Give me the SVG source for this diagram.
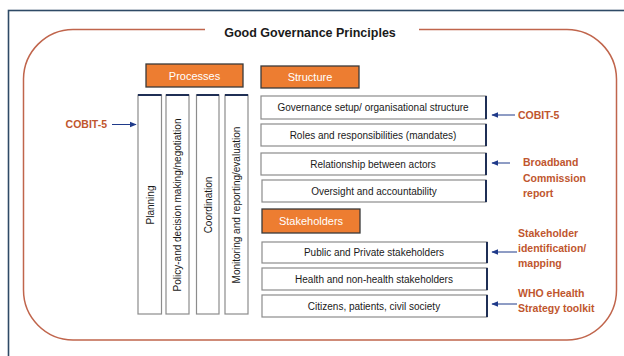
<svg xmlns="http://www.w3.org/2000/svg" width="624" height="356" viewBox="0 0 624 356">
<style>
.t{font-family:"Liberation Sans",Arial,sans-serif;font-size:10px;fill:#1a1a1a;text-anchor:middle}
.hd{font-family:"Liberation Sans",Arial,sans-serif;font-size:11px;fill:#ffffff;text-anchor:middle}
.ref{font-family:"Liberation Sans",Arial,sans-serif;font-size:10.5px;font-weight:bold;fill:#C0562E}
.box{fill:#ffffff;stroke:#8c8c8c;stroke-width:1.2}
.edge{stroke:#1F2F55;stroke-width:2}
.org{fill:#ED7D31;stroke:#3a3a3a;stroke-width:1.3}
.arr{stroke:#1F3A8A;stroke-width:1;fill:none;marker-end:url(#ah)}
</style>
<defs>
<marker id="ah" viewBox="0 0 10 10" refX="9" refY="5" markerWidth="7" markerHeight="7" markerUnits="userSpaceOnUse" orient="auto">
<path d="M0,1 L10,5 L0,9 z" fill="#1F3A8A"/>
</marker>
</defs>
<rect x="0" y="0" width="624" height="356" fill="#ffffff"/>
<rect x="8.5" y="10.5" width="640" height="360" fill="none" stroke="#2E4A66" stroke-width="1.6"/>
<path d="M205,29.5 L73,29.5 A50,50 0 0 0 23.5,79 L23.5,290 A50,50 0 0 0 73,340 L567,340 A50,50 0 0 0 616.5,290 L616.5,79 A50,50 0 0 0 567,29.5 L419,29.5" fill="none" stroke="#C0654C" stroke-width="1.5"/>
<text x="310" y="37" font-family="Liberation Sans,Arial,sans-serif" font-size="12.5" font-weight="bold" fill="#1a1a1a" text-anchor="middle">Good Governance Principles</text>

<g id="processes">
<rect class="org" x="146" y="64" width="97" height="23"/>
<text class="hd" x="194.5" y="79.5">Processes</text>
</g>
<g id="structure">
<rect class="org" x="261" y="66" width="98" height="22"/>
<text class="hd" x="310" y="81">Structure</text>
</g>
<g id="stakeholders">
<rect class="org" x="262" y="209" width="98" height="24"/>
<text class="hd" x="311" y="225">Stakeholders</text>
</g>

<g id="planning">
<rect class="box" x="138" y="95" width="23.5" height="219"/>
<line class="edge" x1="138" y1="95" x2="161.5" y2="95"/>
<text class="t" transform="translate(153.5,205) rotate(-90)">Planning</text>
</g>
<g id="policy">
<rect class="box" x="166" y="95" width="23" height="219"/>
<line class="edge" x1="166" y1="95" x2="189" y2="95"/>
<text class="t" transform="translate(181,205) rotate(-90)">Policy-and decision making/negotiation</text>
</g>
<g id="coordination">
<rect class="box" x="196.5" y="95" width="22.5" height="219"/>
<line class="edge" x1="196.5" y1="95" x2="219" y2="95"/>
<text class="t" transform="translate(211.5,205) rotate(-90)">Coordination</text>
</g>
<g id="monitoring">
<rect class="box" x="225" y="95" width="23" height="219"/>
<line class="edge" x1="225" y1="95" x2="248" y2="95"/>
<text class="t" transform="translate(240,205) rotate(-90)">Monitoring and reporting/evaluation</text>
</g>

<g id="governance-setup">
<rect class="box" x="261" y="96" width="225" height="23"/>
<line class="edge" x1="486" y1="96" x2="486" y2="119"/>
<text class="t" x="373" y="111">Governance setup/ organisational structure</text>
</g>
<g id="roles">
<rect class="box" x="261" y="124" width="225" height="22"/>
<line class="edge" x1="486" y1="124" x2="486" y2="146"/>
<text class="t" x="373" y="138.5">Roles and responsibilities (mandates)</text>
</g>
<g id="relationship">
<rect class="box" x="261" y="153" width="225" height="22"/>
<line class="edge" x1="486" y1="153" x2="486" y2="175"/>
<text class="t" x="373" y="167.5">Relationship between actors</text>
</g>
<g id="oversight">
<rect class="box" x="262" y="180" width="224" height="22"/>
<line class="edge" x1="486" y1="180" x2="486" y2="202"/>
<text class="t" x="374" y="194.5">Oversight and accountability</text>
</g>
<g id="public-private">
<rect class="box" x="262" y="242" width="225" height="21"/>
<line class="edge" x1="487" y1="242" x2="487" y2="263"/>
<text class="t" x="374" y="256">Public and Private stakeholders</text>
</g>
<g id="health">
<rect class="box" x="262" y="268" width="225" height="22"/>
<line class="edge" x1="487" y1="268" x2="487" y2="290"/>
<text class="t" x="374" y="282.5">Health and non-health stakeholders</text>
</g>
<g id="citizens">
<rect class="box" x="262" y="295" width="225" height="22"/>
<line class="edge" x1="487" y1="295" x2="487" y2="317"/>
<text class="t" x="374" y="309.5">Citizens, patients, civil society</text>
</g>

<g id="ref-cobit-left">
<text class="ref" x="107" y="128" text-anchor="end">COBIT-5</text>
</g>
<g id="ref-cobit-right">
<text class="ref" x="518" y="118.5">COBIT-5</text>
</g>
<g id="ref-broadband">
<text class="ref" x="523" y="166">Broadband</text>
<text class="ref" x="523" y="181.5">Commission</text>
<text class="ref" x="523" y="197">report</text>
</g>
<g id="ref-stakeholder">
<text class="ref" x="518" y="237">Stakeholder</text>
<text class="ref" x="518" y="252">identification/</text>
<text class="ref" x="518" y="267">mapping</text>
</g>
<g id="ref-who">
<text class="ref" x="518" y="297">WHO eHealth</text>
<text class="ref" x="518" y="312">Strategy toolkit</text>
</g>

<g id="connectors">
<line class="arr" x1="112" y1="124.5" x2="136" y2="124.5"/>
<line class="arr" x1="515" y1="115" x2="492" y2="115"/>
<line class="arr" x1="510" y1="163" x2="492" y2="163"/>
<line class="arr" x1="517" y1="252" x2="492" y2="252"/>
<line class="arr" x1="517" y1="304" x2="492" y2="304"/>
</g>
</svg>
